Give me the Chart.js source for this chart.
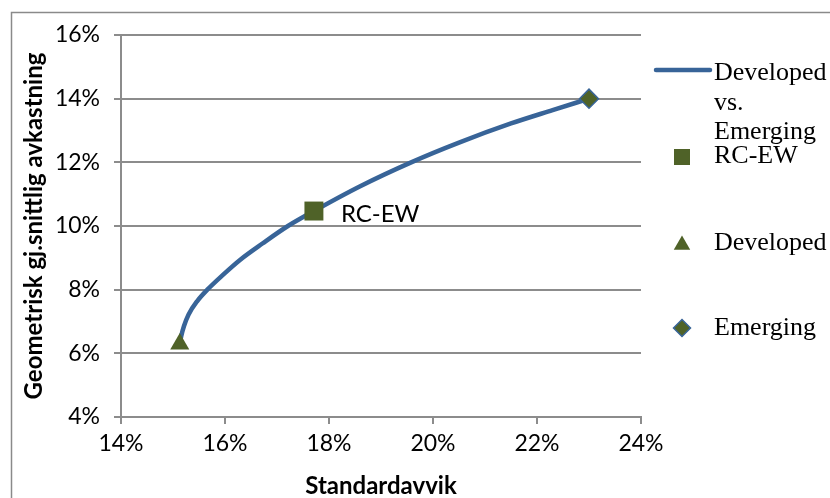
<!DOCTYPE html>
<html>
<head>
<meta charset="utf-8">
<script src="https://cdn.jsdelivr.net/npm/chart.js@4.4.1/dist/chart.umd.min.js"></script>
<style>
  html, body { margin: 0; padding: 0; background: #ffffff; }
  #wrap { width: 830px; height: 498px; }
</style>
</head>
<body>
<div id="wrap"><canvas id="c" width="830" height="498"></canvas></div>
<script>
// ---- Data (percent) ----
const frontierLabel = 'Developed vs. Emerging';
const frontierSigma  = [15.13, 15.16, 15.21, 15.30, 15.47, 15.66, 15.95, 16.30, 16.72, 17.21, 17.71, 18.60, 19.58, 20.50, 21.50, 22.30, 23.00];
const frontierReturn = [6.29, 6.55, 6.85, 7.22, 7.65, 8.00, 8.45, 8.95, 9.45, 10.00, 10.47, 11.25, 12.00, 12.62, 13.22, 13.64, 14.00];

const pointLabels = ['RC-EW', 'Developed', 'Emerging'];
const pointSigma  = [17.71, 15.13, 23.00];
const pointReturn = [10.47, 6.29, 14.00];

const xTicks = [14, 16, 18, 20, 22, 24];
const yTicks = [4, 6, 8, 10, 12, 14, 16];
const xTitle = 'Standardavvik';
const yTitle = 'Geometrisk gj.snittlig avkastning';

// ---- Styles ----
const lineColor = '#386498';
const olive = '#4F6228';
const gridColor = '#8c8c8c';
const sansFont = 'Lato';
const serifFont = 'Liberation Serif';

const frontierData = frontierSigma.map((s, i) => ({ x: s, y: frontierReturn[i] }));
const shapeStyles = [
  { pointStyle: 'rect', radius: 13.4, border: olive, legendRadius: 11.3 },
  { pointStyle: 'triangle', radius: 11, border: olive, legendRadius: 9.5 },
  { pointStyle: 'rectRot', radius: 9.5, border: lineColor, legendRadius: 8.5 }
];

const datasets = [{
  label: frontierLabel,
  data: frontierData,
  showLine: true,
  borderColor: lineColor,
  borderWidth: 4.5,
  borderCapStyle: 'round',
  borderJoinStyle: 'round',
  pointRadius: 0,
  pointHoverRadius: 0,
  cubicInterpolationMode: 'monotone',
  fill: false,
  order: 2
}];
pointLabels.forEach((lab, i) => {
  datasets.push({
    label: lab,
    data: [{ x: pointSigma[i], y: pointReturn[i] }],
    showLine: false,
    pointStyle: shapeStyles[i].pointStyle,
    pointRadius: shapeStyles[i].radius,
    pointBackgroundColor: olive,
    pointBorderColor: shapeStyles[i].border,
    pointBorderWidth: shapeStyles[i].pointStyle === 'rectRot' ? 1.5 : 0,
    order: 1
  });
});

function drawShape(ctx, style, x, y, r, fill, stroke) {
  ctx.save();
  ctx.beginPath();
  if (style === 'rect') {
    const s = Math.SQRT1_2 * r;
    ctx.rect(x - s, y - s, 2 * s, 2 * s);
  } else if (style === 'triangle') {
    for (let k = 0; k < 3; k++) {
      const a = k * 2 * Math.PI / 3;
      const px = x + Math.sin(a) * r, py = y - Math.cos(a) * r;
      if (k === 0) ctx.moveTo(px, py); else ctx.lineTo(px, py);
    }
    ctx.closePath();
  } else {
    ctx.moveTo(x - r, y); ctx.lineTo(x, y - r); ctx.lineTo(x + r, y); ctx.lineTo(x, y + r);
    ctx.closePath();
  }
  ctx.fillStyle = fill;
  ctx.fill();
  if (style === 'rectRot') { ctx.lineWidth = 1.5; ctx.strokeStyle = stroke; ctx.stroke(); }
  ctx.restore();
}

const decorPlugin = {
  id: 'decor',
  beforeDraw(chart) {
    const ctx = chart.ctx;
    ctx.save();
    ctx.fillStyle = '#ffffff';
    ctx.fillRect(0, 0, chart.width, chart.height);
    ctx.strokeStyle = '#8a8a8a';
    ctx.lineWidth = 1.5;
    ctx.strokeRect(11.5, 12.5, chart.width + 20, chart.height + 20);
    ctx.restore();
  },
  afterDraw(chart) {
    const ctx = chart.ctx;
    const ds = chart.data.datasets;
    ctx.save();
    // RC-EW data label
    const meta = chart.getDatasetMeta(1);
    const pt = meta.data[0];
    ctx.font = '24px ' + sansFont;
    ctx.fillStyle = '#000000';
    ctx.textBaseline = 'alphabetic';
    ctx.textAlign = 'left';
    ctx.fillText(ds[1].label, pt.x + 27, pt.y + 11);

    // Legend
    const textX = 714;
    ctx.font = '26px ' + serifFont;
    ctx.strokeStyle = lineColor;
    ctx.lineWidth = 4.5;
    ctx.lineCap = 'round';
    ctx.beginPath();
    ctx.moveTo(656, 70);
    ctx.lineTo(710, 70);
    ctx.stroke();
    const words = ds[0].label.split(' ');
    const maxW = 830 - textX - 2;
    const lines = [];
    let cur = '';
    words.forEach(w => {
      const test = cur ? cur + ' ' + w : w;
      if (cur && ctx.measureText(test).width > maxW) { lines.push(cur); cur = w; }
      else cur = test;
    });
    if (cur) lines.push(cur);
    lines.forEach((l, i) => ctx.fillText(l, textX, 80 + i * 29.5));
    const rowY = [157, 245, 328];
    const baseY = [163, 250, 335];
    for (let i = 0; i < 3; i++) {
      const st = shapeStyles[i];
      drawShape(ctx, st.pointStyle, 682, rowY[i], st.legendRadius, olive, st.border);
      ctx.fillStyle = '#000000';
      ctx.fillText(ds[i + 1].label, textX, baseY[i]);
    }
    ctx.restore();
  }
};

new Chart(document.getElementById('c'), {
  type: 'scatter',
  data: { datasets },
  plugins: [decorPlugin],
  options: {
    responsive: false,
    animation: false,
    events: [],
    layout: { padding: { left: 0, top: 35, right: 189, bottom: 0 } },
    plugins: { legend: { display: false }, tooltip: { enabled: false } },
    scales: {
      x: {
        type: 'linear',
        min: xTicks[0],
        max: xTicks[xTicks.length - 1],
        afterBuildTicks(scale) { scale.ticks = xTicks.map(v => ({ value: v })); },
        afterFit(scale) { scale.height = 81; },
        ticks: {
          color: '#000000',
          font: { family: sansFont, size: 23 },
          padding: 6,
          maxRotation: 0,
          callback: v => v + '%'
        },
        grid: { drawOnChartArea: false, drawTicks: true, tickLength: 7, color: gridColor, lineWidth: 2 },
        border: { display: true, color: gridColor, width: 2 },
        title: { display: true, text: xTitle, color: '#000000', font: { family: sansFont, size: 24, weight: 'bold', lineHeight: 1.0 }, padding: { top: 0, bottom: 0 } }
      },
      y: {
        type: 'linear',
        min: yTicks[0],
        max: yTicks[yTicks.length - 1],
        afterBuildTicks(scale) { scale.ticks = yTicks.map(v => ({ value: v })); },
        afterFit(scale) { scale.width = 121; },
        ticks: {
          color: '#000000',
          font: { family: sansFont, size: 23 },
          padding: 14,
          callback: v => v + '%'
        },
        grid: { drawOnChartArea: true, drawTicks: true, tickLength: 7, color: gridColor, lineWidth: 2 },
        border: { display: true, color: gridColor, width: 2 },
        title: { display: true, text: yTitle, color: '#000000', font: { family: sansFont, size: 24, weight: 'bold', lineHeight: 1.0 }, padding: { top: 22, bottom: 0 } }
      }
    }
  }
});
</script>
</body>
</html>
